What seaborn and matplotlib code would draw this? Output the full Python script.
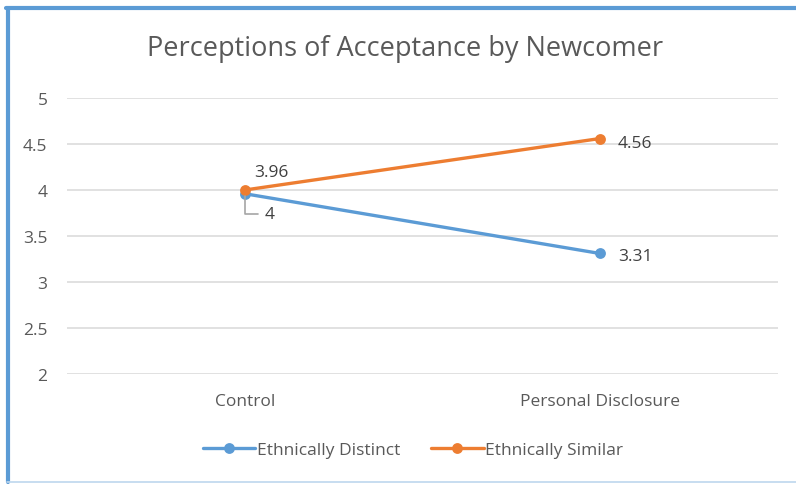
import matplotlib
matplotlib.use('Agg')
import matplotlib.pyplot as plt
import pandas as pd
import seaborn as sns
from matplotlib.lines import Line2D

conditions = ['Control', 'Personal Disclosure']
distinct = [3.96, 3.31]
similar = [4.0, 4.56]
series_names = ['Ethnically Distinct', 'Ethnically Similar']
colors = ['#5B9BD5', '#ED7D31']
y_ticks = [2, 2.5, 3, 3.5, 4, 4.5, 5]

df = pd.DataFrame({
    'Condition': conditions * 2,
    'Score': distinct + similar,
    'Series': [series_names[0]] * 2 + [series_names[1]] * 2,
})

sns.set_style('white')
plt.rcParams['font.family'] = ['Open Sans', 'DejaVu Sans']
text_grey = '#595959'
label_grey = '#404040'

fig = plt.figure(figsize=(7.96, 4.85), dpi=100)
ax = fig.add_axes([0.0842, 0.2268, 0.8928, 0.569])

sns.lineplot(data=df, x='Condition', y='Score', hue='Series',
             palette=colors, marker='o', markersize=7.8, markeredgewidth=0,
             linewidth=2.4, ax=ax, sort=False)

ax.set_xlim(-0.5, 1.5)
ax.set_ylim(2, 5)
ax.set_yticks(y_ticks)
ax.set_yticklabels(['2', '2.5', '3', '3.5', '4', '4.5', '5'])
ax.yaxis.grid(True, color='#D9D9D9', linewidth=1.1)
ax.set_axisbelow(True)
for s in ax.spines.values():
    s.set_visible(False)
ax.tick_params(axis='y', length=0, pad=14, labelsize=12.5, labelcolor=text_grey)
ax.tick_params(axis='x', length=0, pad=14, labelsize=12.5, labelcolor=text_grey)
ax.set_xlabel('')
ax.set_ylabel('')

fig.text(0.509, 0.898, 'Perceptions of Acceptance by Newcomer', ha='center',
         va='center', fontsize=19.5, color=text_grey)

# data labels
ax.annotate(f'{distinct[0]:g}', (0, distinct[0]), xytext=(7, 10),
            textcoords='offset points', fontsize=12.5, color=label_grey,
            va='bottom', ha='left')
ax.annotate(f'{similar[0]:g}', (0, similar[0]), xytext=(14, -17),
            textcoords='offset points', fontsize=12.5, color=label_grey,
            va='center', ha='left',
            arrowprops=dict(arrowstyle='-', color='#A6A6A6', lw=1.2,
                            connectionstyle='angle,angleA=0,angleB=90,rad=0',
                            relpos=(0, 0.5), shrinkA=2, shrinkB=4))
ax.annotate(f'{similar[1]:g}', (1, similar[1]), xytext=(13, -3),
            textcoords='offset points', fontsize=12.5, color=label_grey,
            va='center', ha='left')
ax.annotate(f'{distinct[1]:g}', (1, distinct[1]), xytext=(13, -2),
            textcoords='offset points', fontsize=12.5, color=label_grey,
            va='center', ha='left')

handles, labels = ax.get_legend_handles_labels()
ax.get_legend().remove()
fig.legend(handles, labels, loc='center', bbox_to_anchor=(0.519, 0.07),
           ncol=2, frameon=False, fontsize=12.5, labelcolor=text_grey,
           handlelength=3, handletextpad=0.1, columnspacing=1.8)

# chart frame
fig.add_artist(Line2D([0.0095, 0.0095], [0.005, 0.982], transform=fig.transFigure,
                      color='#5B9BD5', linewidth=3))
fig.add_artist(Line2D([0.007, 1.0], [0.982, 0.982], transform=fig.transFigure,
                      color='#5B9BD5', linewidth=3))
fig.add_artist(Line2D([0.009, 1.0], [0.004, 0.004], transform=fig.transFigure,
                      color='#BDD7EE', linewidth=1.2))

fig.savefig('out.png', dpi=100)
